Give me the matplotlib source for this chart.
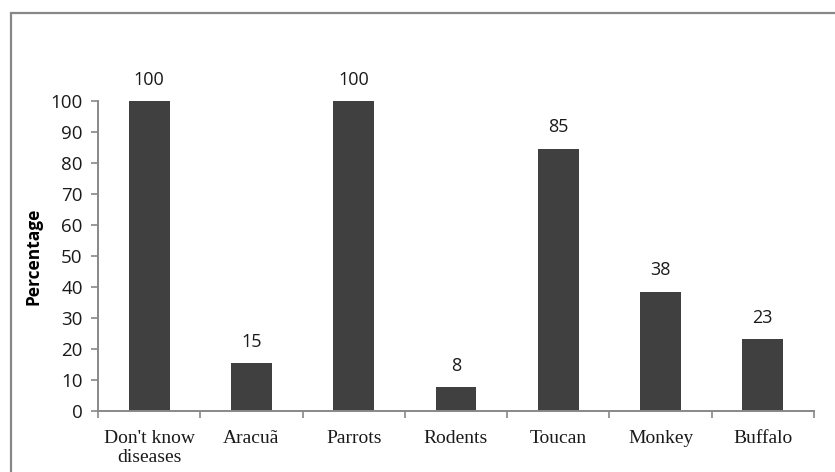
import matplotlib
matplotlib.use("Agg")
import matplotlib.pyplot as plt
from matplotlib.patches import Rectangle

categories = ["Don't know\ndiseases", "Aracuã", "Parrots", "Rodents", "Toucan", "Monkey", "Buffalo"]
values = [100, 15.4, 100, 7.7, 84.6, 38.5, 23.1]
yticks = [0, 10, 20, 30, 40, 50, 60, 70, 80, 90, 100]

W, H = 835, 472
fig = plt.figure(figsize=(W / 100, H / 100), dpi=100)
ax = fig.add_axes([98 / W, 1 - 411 / H, (814 - 98) / W, (411 - 101) / H])

# figure border (left and top visible)
fig.patches.append(Rectangle((11 / W, -0.05), 1.2, 1 - 13 / H + 0.05,
                             transform=fig.transFigure, fill=False,
                             edgecolor="#878787", linewidth=1.6))

x = list(range(len(categories)))
ax.bar(x, values, width=0.40, color="#404040", zorder=2)
for xi, v in zip(x, values):
    ax.text(xi, v + 4, f"{v:.0f}", ha="center", va="bottom",
            fontsize=13, family="Open Sans", color="#1a1a1a", clip_on=False)

ax.set_xlim(-0.5, len(categories) - 0.5)
ax.set_ylim(0, 100)
ax.set_yticks(yticks)
ax.set_yticklabels([str(t) for t in yticks], family="Open Sans", fontsize=13.5, color="#1a1a1a")
ax.set_xticks(x)
ax.set_xticklabels(categories, family="Liberation Serif", fontsize=14, color="#1a1a1a",
                   linespacing=1.15)
ax.set_xticks([i + 0.5 for i in range(-1, len(categories))], minor=True)
ax.tick_params(axis="x", which="major", length=0, pad=14)
ax.tick_params(axis="x", which="minor", length=5, width=1.2, color="#888888", direction="out")
ax.tick_params(axis="y", length=5, width=1.2, color="#888888", direction="out", pad=6)

for s in ["top", "right"]:
    ax.spines[s].set_visible(False)
for s in ["left", "bottom"]:
    ax.spines[s].set_color("#888888")
    ax.spines[s].set_linewidth(1.4)

ax.set_ylabel("Percentage", family="Open Sans", fontweight="bold", fontsize=12.5, labelpad=6)

fig.savefig("out.png", dpi=100)
